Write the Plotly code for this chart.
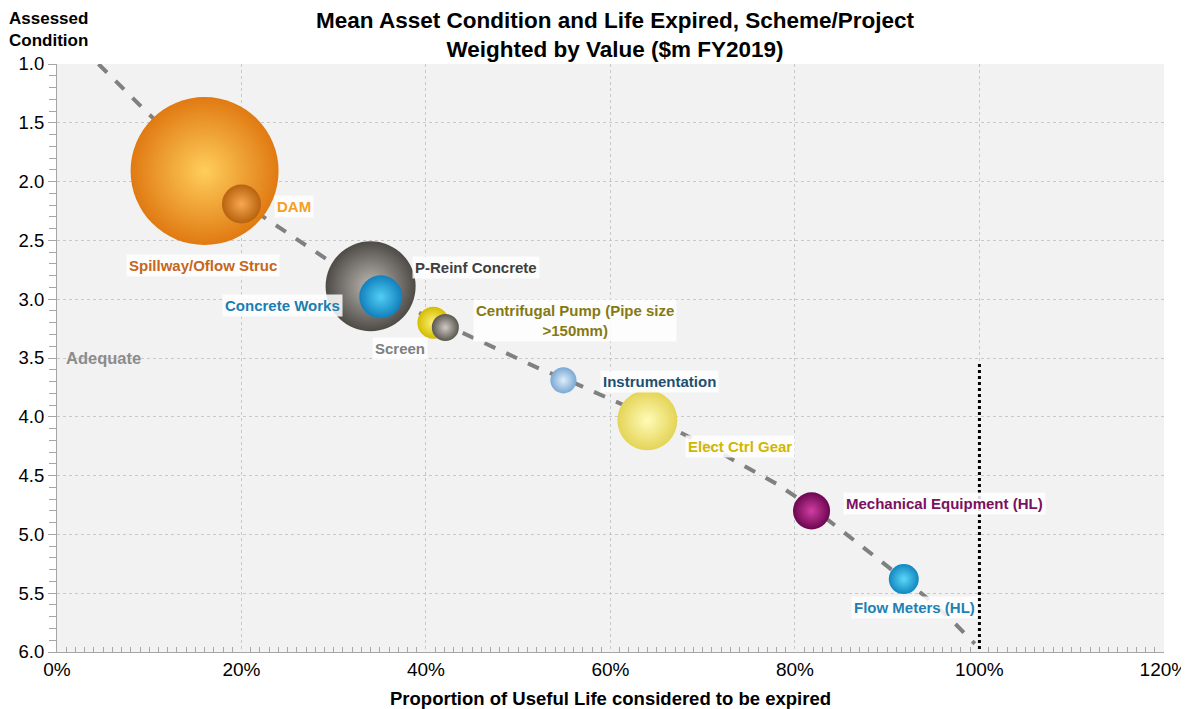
import plotly.graph_objects as go

# scheme/project asset classes
assets = ["Spillway/Oflow Struc", "DAM", "P-Reinf Concrete", "Concrete Works",
          "Centrifugal Pump (Pipe size >150mm)", "Screen", "Instrumentation",
          "Elect Ctrl Gear", "Mechanical Equipment (HL)", "Flow Meters (HL)"]
life_expired = [0.160, 0.200, 0.340, 0.351, 0.408, 0.421, 0.549, 0.640, 0.818, 0.918]
condition = [1.91, 2.19, 2.89, 2.98, 3.20, 3.24, 3.69, 4.03, 4.80, 5.38]
value_m = [219, 15.2, 81, 18.5, 10.2, 7.3, 6.8, 36, 13.7, 9.0]

edge_cols = ["#e07a12", "#b8620e", "#4e4a46", "#1180bc", "#d4bc00",
             "#5a5650", "#7aa8d4", "#e4d456", "#6c0650", "#1286c0"]
centre_cols = ["#ffce5c", "#f8a850", "#bcb8b2", "#52cef6", "#fff27a",
               "#cfcbc4", "#deeefa", "#fffbb8", "#d03ea2", "#5cd8fa"]

# trendline
trend_x = [0.045, 0.10, 0.16, 0.22, 0.30, 0.38, 0.46, 0.52, 0.56, 0.62,
           0.67, 0.72, 0.75, 0.78, 0.82, 0.86, 0.90, 0.94, 0.97, 0.995]
trend_y = [1.00, 1.43, 1.86, 2.28, 2.70, 3.07, 3.36, 3.58, 3.71, 3.92,
           4.11, 4.31, 4.44, 4.57, 4.78, 5.02, 5.27, 5.52, 5.73, 5.93]

limit_x = [1.0, 1.0]
limit_y = [3.55, 6.0]

# label positions and colours
label_text = ["Spillway/Oflow Struc", "DAM", "P-Reinf Concrete", "Concrete Works",
              "Centrifugal Pump (Pipe size<br>>150mm)", "Screen", "Instrumentation",
              "Elect Ctrl Gear", "Mechanical Equipment (HL)", "Flow Meters (HL)"]
label_x = [0.158, 0.257, 0.454, 0.245, 0.562, 0.372, 0.653, 0.740, 0.962, 0.930]
label_y = [2.71, 2.21, 2.73, 3.05, 3.18, 3.42, 3.70, 4.25, 4.74, 5.62]
label_cols = ["#c5661c", "#f5a020", "#3f3f3f", "#1a7fb0", "#857a12",
              "#7f7f7f", "#1d5070", "#d2b600", "#7a1060", "#1f82b4"]

FONT = "Liberation Sans, Arial, sans-serif"

fig = go.Figure()

fig.add_trace(go.Scatter(x=trend_x, y=trend_y, mode="lines",
                         line=dict(color="#808080", width=4, dash="dash"),
                         hoverinfo="skip", showlegend=False))

fig.add_trace(go.Scatter(x=limit_x, y=limit_y, mode="lines",
                         line=dict(color="#000000", width=3, dash="dot"),
                         hoverinfo="skip", showlegend=False))

fig.add_trace(go.Scatter(
    x=life_expired, y=condition, mode="markers", text=assets,
    marker=dict(size=value_m, sizemode="area", sizeref=0.02,
                color=edge_cols, line=dict(width=0), opacity=1,
                gradient=dict(type="radial", color=centre_cols)),
    hovertemplate="%{text}<br>%{x:.0%}, %{y:.2f}<extra></extra>",
    showlegend=False))

for t, x, y, c in zip(label_text, label_x, label_y, label_cols):
    fig.add_annotation(x=x, y=y, text=f"<b>{t}</b>", showarrow=False,
                       font=dict(family=FONT, size=15, color=c),
                       bgcolor="rgba(255,255,255,0.85)", borderpad=2)

fig.add_annotation(x=0.008, y=3.5, xanchor="left", text="<b>Adequate</b>",
                   showarrow=False, font=dict(family=FONT, size=16.5, color="#8c8c8c"))

fig.add_annotation(xref="paper", yref="paper", x=-0.045, y=1.097, xanchor="left",
                   yanchor="top", align="left",
                   text="<b>Assessed<br>Condition</b>", showarrow=False,
                   font=dict(family=FONT, size=17, color="#000000"))

# page body adds an 8px margin, so the figure is sized to sit inside the window
fig.update_layout(
    width=1181, height=701,
    margin=dict(l=49, r=25, t=56, b=57),
    paper_bgcolor="#ffffff", plot_bgcolor="#f2f2f2",
    font=dict(family=FONT, color="#000000"),
    title=dict(text="<b>Mean Asset Condition and Life Expired, Scheme/Project<br>Weighted by Value ($m FY2019)</b>",
               x=0.514, xanchor="center", y=0.972, yanchor="top",
               font=dict(family=FONT, size=22.5, color="#000000")),
    xaxis=dict(range=[0, 1.2001], dtick=0.2, tickformat=".0%", automargin=False,
               showgrid=True, gridcolor="#c8c8c8", griddash="dot", gridwidth=1,
               zeroline=False, showline=True, linecolor="#a6a6a6",
               ticks="", tickfont=dict(size=19),
               minor=dict(dtick=0.01, ticks="inside", ticklen=5, tickcolor="#a6a6a6", showgrid=False),
               title=dict(text="<b>Proportion of Useful Life considered to be expired</b>",
                          font=dict(size=18.5), standoff=14)),
    yaxis=dict(range=[6, 1], dtick=0.5, tickformat=".1f", automargin=False,
               showgrid=True, gridcolor="#c8c8c8", griddash="dot", gridwidth=1,
               zeroline=False, showline=True, linecolor="#a6a6a6",
               ticks="outside", ticklen=8, tickcolor="#a6a6a6", tickfont=dict(size=18.5),
               minor=dict(dtick=0.1, ticks="outside", ticklen=7, tickcolor="#a6a6a6", showgrid=False)),
)

fig.write_html("out.html")
